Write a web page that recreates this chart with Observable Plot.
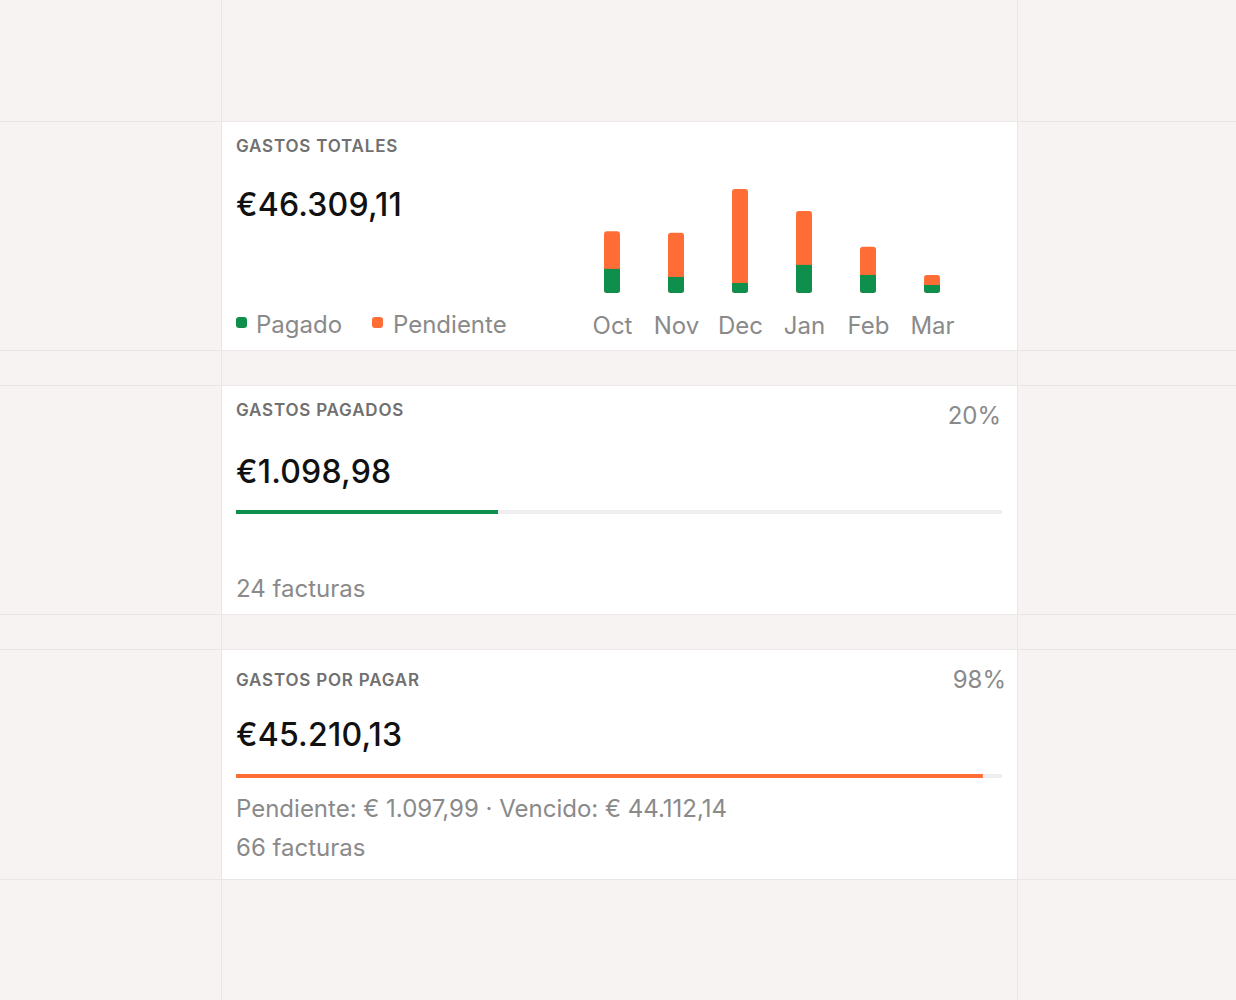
<!DOCTYPE html>
<html>
<head>
<meta charset="utf-8">
<script src="https://cdn.jsdelivr.net/npm/d3@7"></script>
<script src="https://cdn.jsdelivr.net/npm/@observablehq/plot@0.6"></script>
<style>
  html, body { margin: 0; padding: 0; }
  body { width: 1236px; height: 1000px; background: #f7f3f3; position: relative; overflow: hidden; font-family: Inter, "Noto Sans", sans-serif; }
  .vline { position: absolute; top: 0; width: 1px; height: 1000px; background: #ebe5e5; }
  .hline { position: absolute; left: 0; width: 1236px; height: 1px; background: #ebe5e5; }
  .card { position: absolute; left: 222px; width: 795px; background: #ffffff; }
  .t { position: absolute; white-space: nowrap; }
  .label { font-size: 17px; line-height: 17px; font-weight: 600; color: #707070; letter-spacing: 0.8px; }
  .value { font-size: 32px; line-height: 32px; font-weight: 500; color: #111111; letter-spacing: 0.2px; }
  .muted { font-size: 24px; line-height: 24px; font-weight: 400; color: #8a8a8a; }
  .dot { position: absolute; width: 11px; height: 11px; border-radius: 3px; }
  .plotbox { position: absolute; }
</style>
</head>
<body>
<div class="vline" style="left:221px"></div>
<div class="vline" style="left:1017px"></div>
<div class="hline" style="top:121px"></div>
<div class="hline" style="top:350px"></div>
<div class="hline" style="top:385px"></div>
<div class="hline" style="top:614px"></div>
<div class="hline" style="top:649px"></div>
<div class="hline" style="top:879px"></div>

<div class="card" style="top:122px;height:228px"></div>
<div class="card" style="top:386px;height:228px"></div>
<div class="card" style="top:650px;height:229px"></div>

<div id="texts"></div>
<div id="chart" class="plotbox" style="left:580px;top:170px"></div>
<div id="bar1" class="plotbox" style="left:236px;top:510px"></div>
<div id="bar2" class="plotbox" style="left:236px;top:774px"></div>

<script>
// ---- data ----
const months = ["Oct", "Nov", "Dec", "Jan", "Feb", "Mar"];
const paidByMonth = [3000, 2000, 1250, 3500, 2250, 1000];
const pendingByMonth = [4700, 5500, 11700, 6700, 3500, 1250];
const seriesNames = ["Pagado", "Pendiente"];
const cardTitles = ["GASTOS TOTALES", "GASTOS PAGADOS", "GASTOS POR PAGAR"];
const cardValues = ["€46.309,11", "€1.098,98", "€45.210,13"];
const cardPercents = ["20%", "98%"];
const progressShares = [0.342, 0.975];
const cardNotes = ["24 facturas", "Pendiente: € 1.097,99 · Vencido: € 44.112,14", "66 facturas"];

const GREEN = "#0f8f4c";
const ORANGE = "#ff6d37";
const TRACK = "#efeded";

// ---- texts ----
const texts = document.getElementById("texts");
function addText(cls, str, left, top, right) {
  const d = document.createElement("div");
  d.className = "t " + cls;
  d.textContent = str;
  d.style.top = top + "px";
  if (right != null) d.style.right = right + "px"; else d.style.left = left + "px";
  texts.appendChild(d);
  return d;
}
// card 1
addText("label", cardTitles[0], 236, 138.3);
addText("value", cardValues[0], 236, 188.7);
// legend
const legendX = [[236, 256], [372, 393]];
seriesNames.forEach((name, i) => {
  const dot = document.createElement("div");
  dot.className = "dot";
  dot.style.left = legendX[i][0] + "px";
  dot.style.top = "317px";
  dot.style.background = i === 0 ? GREEN : ORANGE;
  texts.appendChild(dot);
  addText("muted", name, legendX[i][1], 313);
});
// card 2
addText("label", cardTitles[1], 236, 402.3);
addText("muted", cardPercents[0], null, 404, 235);
addText("value", cardValues[1], 236, 456);
addText("muted", cardNotes[0], 236, 576.5);
// card 3
addText("label", cardTitles[2], 236, 672);
addText("muted", cardPercents[1], null, 668.2, 230);
addText("value", cardValues[2], 236, 719.3);
addText("muted", cardNotes[1], 236, 797);
addText("muted", cardNotes[2], 236, 836);

// ---- bar chart ----
const rows = months.map((m, i) => ({month: m, paid: paidByMonth[i], total: paidByMonth[i] + pendingByMonth[i]}));
const chart = Plot.plot({
  width: 384,
  height: 180,
  marginTop: 19,
  marginBottom: 57,
  marginLeft: 0,
  marginRight: 0,
  style: {fontFamily: "Inter, sans-serif", fontSize: "24px", color: "#8a8a8a", background: "transparent", overflow: "visible"},
  x: {domain: months, paddingInner: 0.75, paddingOuter: 0.375, tickSize: 0, tickPadding: 23, label: null},
  y: {axis: null, domain: [0, d3.max(rows, d => d.total)]},
  marks: [
    Plot.barY(rows, {x: "month", y1: 0, y2: "total", fill: ORANGE, rx: 3}),
    Plot.barY(rows, {x: "month", y1: 0, y2: "paid", fill: GREEN, rx: 3}),
    Plot.barY(rows, {x: "month", y1: 0, y2: "paid", fill: GREEN, insetBottom: 4})
  ]
});
document.getElementById("chart").appendChild(chart);

// ---- progress bars ----
function progress(share, color) {
  return Plot.plot({
    width: 766,
    height: 4,
    margin: 0,
    style: {background: "transparent"},
    x: {axis: null, domain: [0, 1]},
    y: {axis: null},
    marks: [
      Plot.barX([{s: 1}], {x1: 0, x2: "s", fill: TRACK}),
      Plot.barX([{s: share}], {x1: 0, x2: "s", fill: color})
    ]
  });
}
document.getElementById("bar1").appendChild(progress(progressShares[0], GREEN));
document.getElementById("bar2").appendChild(progress(progressShares[1], ORANGE));
</script>
</body>
</html>
